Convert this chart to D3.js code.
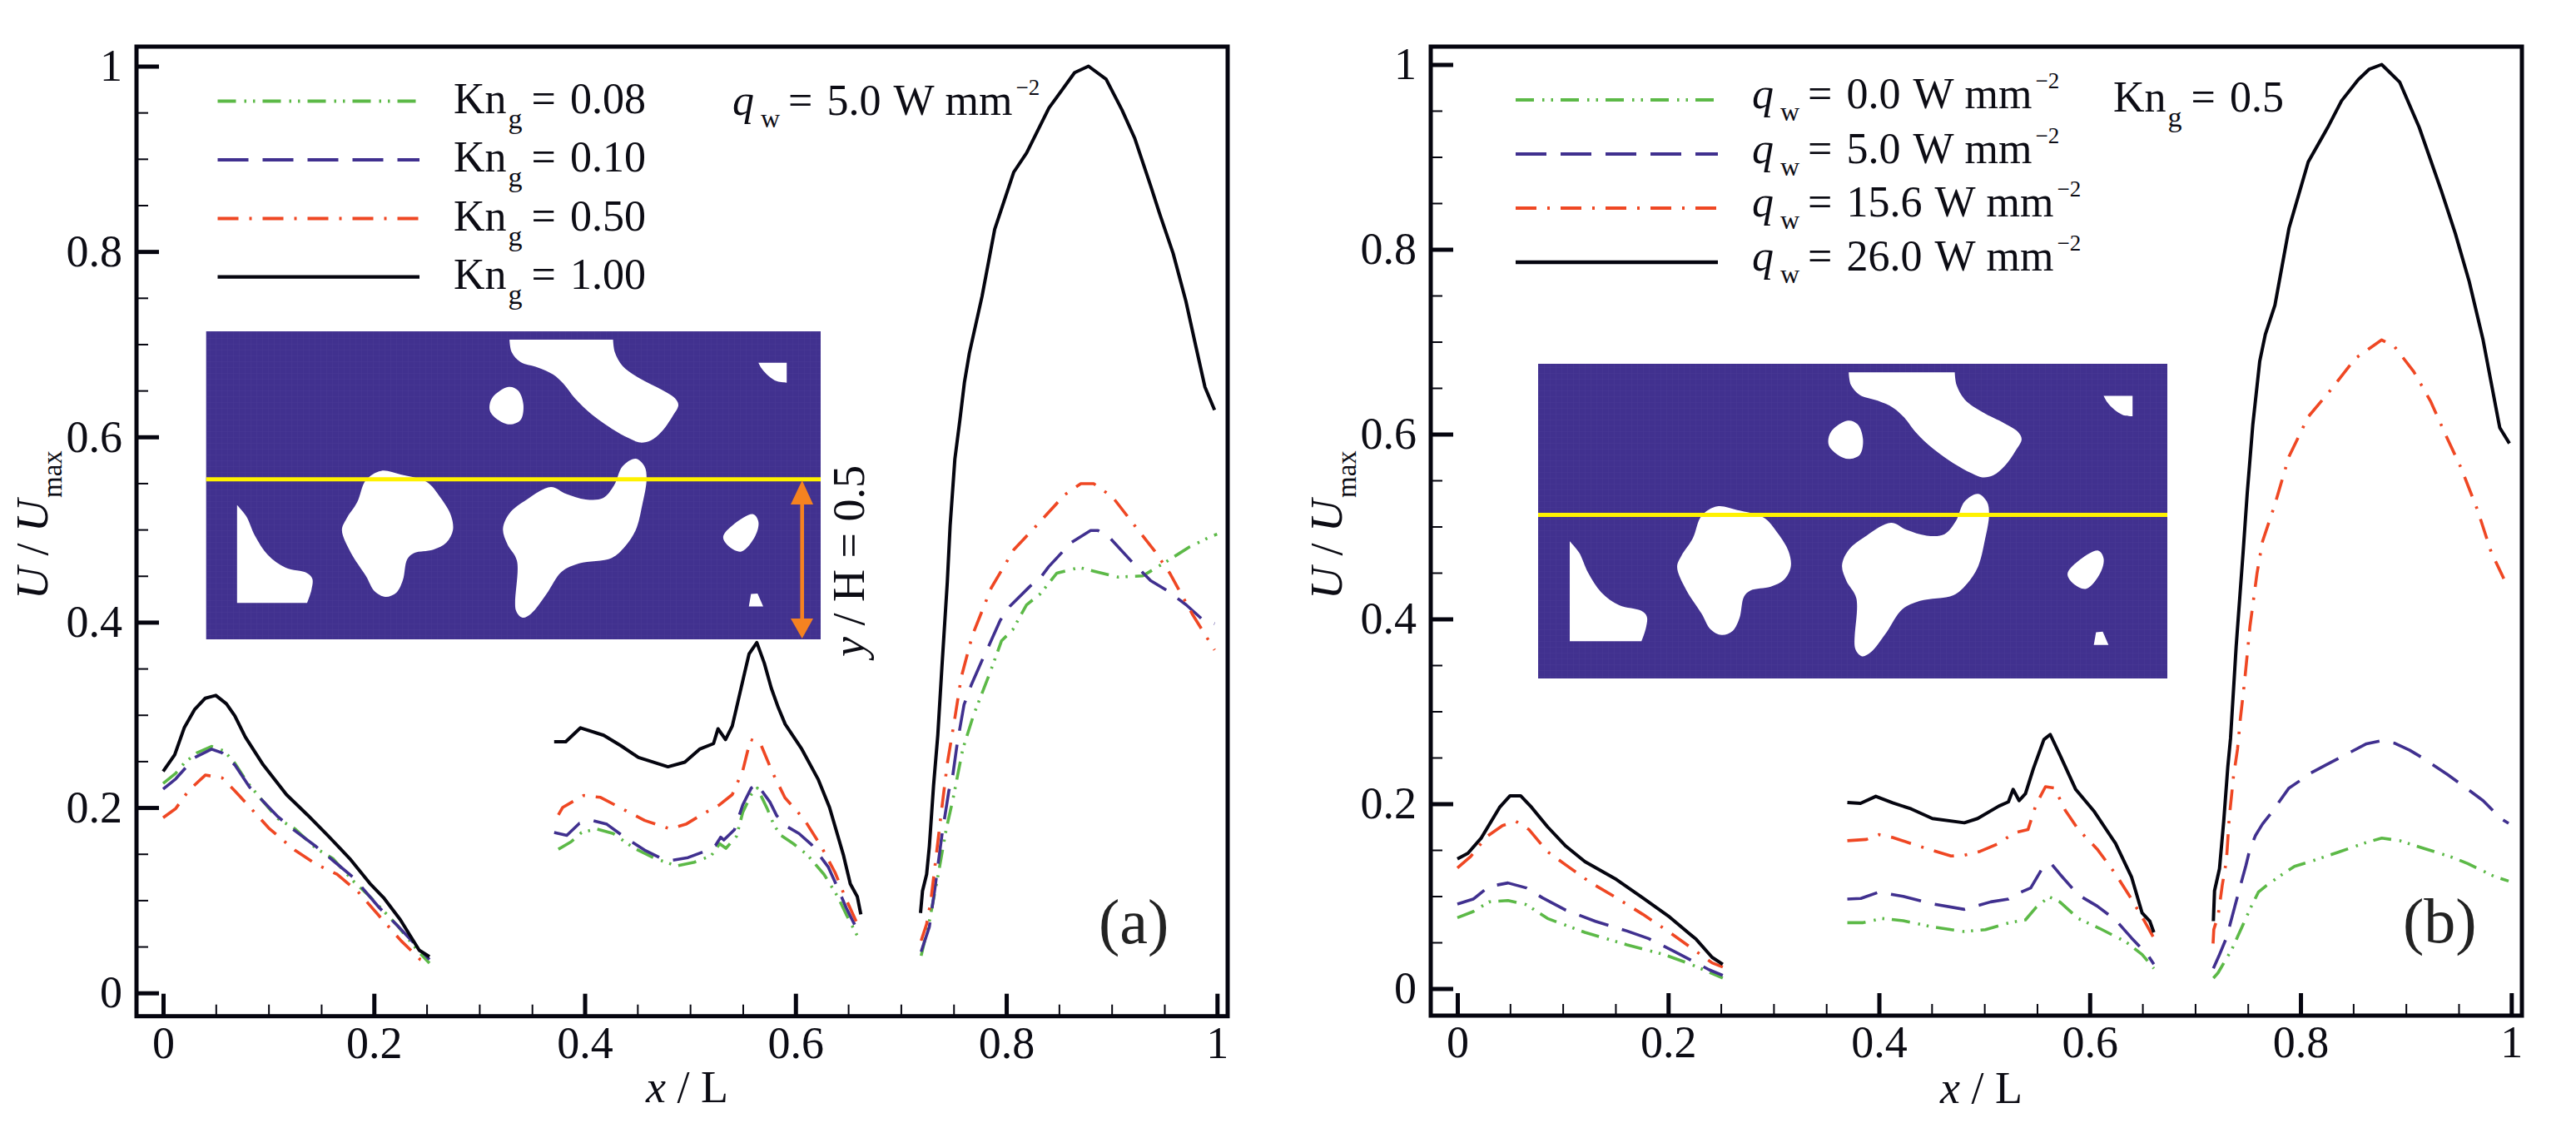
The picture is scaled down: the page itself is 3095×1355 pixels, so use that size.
<!DOCTYPE html>
<html><head><meta charset="utf-8">
<script src="https://cdn.jsdelivr.net/npm/d3@7/dist/d3.min.js"></script>
<style>html,body{margin:0;padding:0;background:#fff}svg{display:block}
text{font-family:"Liberation Serif","Times New Roman",serif;fill:#0c0c14}</style>
</head><body><svg id="c" width="3095" height="1355"></svg>
<script>
const xTicksMajor=[0,0.2,0.4,0.6,0.8,1];
const xTicksMinor=[0.05,0.1,0.15,0.25,0.3,0.35,0.45,0.5,0.55,0.65,0.7,0.75,0.85,0.9,0.95];
const yTicksMajor=[0,0.2,0.4,0.6,0.8,1];
const yTicksMinor=[0.05,0.1,0.15,0.25,0.3,0.35,0.45,0.5,0.55,0.65,0.7,0.75,0.85,0.9,0.95];

// Panel (a)
const aGreen1=[[0,.226],[.012,.237],[.02,.248],[.032,.259],[.046,.266],[.058,.261],[.068,.248],[.08,.227],[.093,.209],[.109,.188],[.125,.177],[.145,.156],[.161,.145],[.181,.120],[.197,.103],[.222,.073],[.242,.045],[.2527,.032]];
const aBlue1=[[0,.220],[.012,.231],[.03,.254],[.046,.263],[.056,.259],[.068,.246],[.082,.222],[.093,.209],[.109,.190],[.125,.175],[.145,.158],[.161,.143],[.181,.124],[.205,.092],[.222,.073],[.2527,.036]];
const aRed1=[[0,.189],[.012,.199],[.024,.218],[.04,.235],[.056,.232],[.068,.218],[.085,.197],[.101,.177],[.125,.154],[.145,.139],[.165,.128],[.185,.109],[.205,.083],[.226,.056],[.244,.036],[.2527,.032]];
const aBlack1=[[0,.239],[.011,.257],[.02,.286],[.03,.306],[.04,.318],[.05,.321],[.06,.312],[.068,.299],[.078,.276],[.095,.246],[.117,.214],[.137,.192],[.157,.169],[.177,.145],[.197,.117],[.209,.103],[.225,.079],[.243,.046],[.2527,.039]];
const aGreen2=[[.375,.155],[.387,.163],[.397,.173],[.411,.177],[.427,.172],[.447,.156],[.467,.145],[.487,.137],[.504,.141],[.52,.148],[.528,.161],[.534,.156],[.544,.169],[.55,.195],[.558,.214],[.5638,.221],[.5731,.199],[.5796,.181],[.5862,.170],[.598,.161],[.6112,.149],[.627,.128],[.64,.104],[.648,.085],[.6612,.056]];
const aBlue2=[[.371,.173],[.383,.170],[.395,.183],[.407,.186],[.421,.182],[.439,.167],[.457,.154],[.471,.146],[.483,.143],[.498,.146],[.512,.152],[.524,.159],[.529,.168],[.532,.165],[.542,.176],[.55,.203],[.558,.221],[.5633,.2255],[.5757,.206],[.5823,.191],[.5928,.179],[.6033,.172],[.6152,.160],[.631,.136],[.6402,.113],[.648,.092],[.656,.074],[.662,.061]];
const aRed2=[[.375,.192],[.379,.2],[.391,.208],[.399,.213],[.415,.211],[.435,.199],[.457,.186],[.481,.177],[.496,.182],[.512,.193],[.528,.203],[.54,.214],[.55,.24],[.5573,.2734],[.5665,.2696],[.5783,.2375],[.59,.2106],[.6007,.197],[.6086,.1866],[.6244,.158],[.6375,.13],[.648,.101],[.6612,.068]];
const aBlack2=[[.371,.271],[.382,.271],[.396,.286],[.418,.278],[.434,.267],[.451,.254],[.479,.244],[.495,.249],[.509,.263],[.5222,.269],[.5265,.285],[.5336,.2734],[.54,.288],[.5441,.308],[.552,.3468],[.556,.366],[.5633,.378],[.5704,.3558],[.577,.329],[.5836,.308],[.5902,.29],[.606,.263],[.6217,.23],[.6323,.2],[.6454,.149],[.652,.1177],[.6586,.104],[.662,.0848]];
const aGreen3=[[.7192,.04],[.727,.0774],[.735,.125],[.7429,.176],[.7494,.209],[.7587,.263],[.769,.30],[.785,.347],[.7955,.38],[.806,.3917],[.8192,.4187],[.8323,.4307],[.848,.453],[.869,.459],[.885,.4546],[.906,.4487],[.9295,.45],[.952,.4655],[.9735,.481],[.9946,.4928],[1,.495]];
const aBlue3=[[.7192,.0444],[.727,.0713],[.7323,.113],[.7389,.170],[.7455,.218],[.7494,.236],[.7534,.269],[.7599,.311],[.7666,.3318],[.777,.3588],[.7837,.3752],[.7942,.402],[.8034,.4172],[.8218,.438],[.8337,.45],[.8403,.46],[.8616,.486],[.88,.499],[.887,.499],[.898,.4913],[.919,.4654],[.937,.4449],[.952,.4345],[.9704,.419],[.9855,.4036],[.9976,.3984]];
const aRed3=[[.7192,.0563],[.7244,.0743],[.7283,.0983],[.7336,.149],[.7389,.2],[.7441,.248],[.7507,.293],[.7573,.3408],[.7678,.3857],[.7857,.437],[.807,.478],[.8284,.504],[.8555,.5376],[.8707,.5495],[.8829,.5495],[.9009,.535],[.922,.504],[.94,.478],[.9553,.4526],[.9765,.4087],[.9976,.370]];
const aBlack3=[[.7186,.0862],[.7205,.11],[.7244,.128],[.727,.158],[.731,.224],[.735,.278],[.739,.353],[.744,.4426],[.7467,.504],[.7512,.576],[.7559,.6176],[.7603,.659],[.7649,.69],[.777,.7517],[.789,.824],[.8071,.8857],[.8193,.9064],[.8405,.955],[.8648,.993],[.878,1.0],[.8947,.986],[.9097,.953],[.922,.9218],[.9372,.870],[.946,.839],[.9583,.798],[.9704,.7465],[.9794,.70],[.9885,.6537],[.9976,.629]];

// Panel (b)
const bGreen1=[[0,.0767],[.015,.0833],[.03,.0938],[.048,.0953],[.0655,.0908],[.0856,.0758],[.121,.0608],[.161,.0473],[.196,.0368],[.2216,.0263],[.2367,.0188],[.2518,.0113]];
const bBlue1=[[0,.0914],[.015,.0968],[.03,.1104],[.048,.1143],[.0655,.1089],[.0806,.0983],[.103,.0848],[.131,.0728],[.161,.0623],[.1813,.0542],[.2065,.0398],[.2216,.0308],[.239,.0203],[.2518,.0143]];
const bRed1=[[0,.1305],[.0126,.143],[.0277,.1644],[.0428,.1764],[.0554,.181],[.068,.172],[.0856,.148],[.1058,.1314],[.126,.115],[.1486,.0998],[.176,.0803],[.2015,.0608],[.2216,.0443],[.2417,.0278],[.2518,.0233]];
const bBlack1=[[0,.1404],[.01,.1464],[.0227,.163],[.04,.196],[.05,.2086],[.06,.2086],[.0705,.196],[.0856,.175],[.103,.154],[.121,.1374],[.151,.118],[.176,.098],[.2015,.0773],[.2266,.0533],[.2417,.0338],[.2518,.0263]];
const bGreen2=[[.37,.0713],[.385,.0713],[.403,.0758],[.423,.0734],[.4507,.0668],[.481,.0617],[.501,.0638],[.5238,.0713],[.539,.0743],[.549,.0878],[.5615,.0992],[.5716,.0938],[.589,.0758],[.609,.0653],[.6346,.0503],[.6497,.0368],[.6608,.0218]];
const bBlue2=[[.37,.0968],[.3828,.0975],[.4,.1044],[.423,.0998],[.448,.0923],[.481,.0857],[.506,.0938],[.5228,.0968],[.5288,.1014],[.544,.1089],[.5565,.133],[.564,.1344],[.5716,.1239],[.589,.1014],[.607,.0893],[.6245,.0743],[.6396,.0548],[.6547,.0368],[.6608,.0263]];
const bRed2=[[.37,.16],[.388,.1614],[.4,.1666],[.413,.1635],[.4384,.154],[.4684,.1434],[.481,.1443],[.496,.1485],[.5137,.157],[.5278,.1683],[.5414,.172],[.549,.199],[.558,.2185],[.5666,.217],[.5767,.193],[.5892,.172],[.607,.151],[.6245,.124],[.6396,.0968],[.652,.0728],[.6608,.0548]];
const bBlack2=[[.37,.2013],[.3825,.2004],[.397,.208],[.413,.201],[.4306,.1944],[.4507,.184],[.481,.1794],[.4936,.184],[.5137,.1974],[.5228,.202],[.5273,.2155],[.533,.2034],[.539,.211],[.5465,.238],[.5565,.2695],[.5625,.275],[.5716,.253],[.5867,.2155],[.6044,.1914],[.6245,.157],[.6396,.1209],[.6497,.0818],[.657,.0728],[.6608,.0608]];
const bGreen3=[[.7173,.0113],[.7218,.0171],[.735,.0428],[.7415,.0593],[.7534,.0892],[.76,.1043],[.7678,.1117],[.781,.1223],[.7942,.1322],[.8126,.1387],[.8363,.1477],[.8613,.1577],[.8771,.1629],[.8942,.16],[.9179,.1514],[.9442,.1419],[.9587,.1353],[.9837,.1214],[.9974,.1163]];
const bBlue3=[[.7173,.0218],[.7231,.0368],[.7297,.0548],[.7402,.0998],[.7481,.1329],[.752,.151],[.7573,.1658],[.7639,.178],[.7731,.1914],[.789,.217],[.8008,.226],[.81,.2335],[.8245,.2423],[.8376,.25],[.8626,.2649],[.8758,.268],[.889,.2656],[.9035,.258],[.9153,.25],[.939,.232],[.9508,.2223],[.9732,.2034],[.9837,.1914],[.9903,.1838],[.9974,.1788]];
const bRed3=[[.717,.0487],[.7177,.064],[.7218,.0788],[.7257,.1117],[.7297,.1387],[.7323,.1838],[.7363,.2288],[.7402,.259],[.7429,.2919],[.7468,.331],[.752,.3918],[.7587,.4493],[.7639,.4838],[.7757,.524],[.789,.5757],[.8073,.6188],[.8284,.6475],[.852,.682],[.877,.702],[.889,.695],[.9074,.6677],[.9232,.636],[.939,.5959],[.9521,.564],[.9679,.518],[.981,.472],[.9929,.4436]];
const bBlack3=[[.7173,.073],[.7184,.1059],[.7231,.1297],[.7271,.181],[.731,.24],[.7336,.271],[.7389,.37],[.7455,.472],[.7494,.5356],[.7547,.61],[.7613,.679],[.7666,.708],[.7757,.7395],[.789,.8227],[.8073,.8946],[.8258,.9319],[.8389,.9607],[.8547,.9836],[.8653,.995],[.877,1.0],[.8942,.9807],[.9126,.932],[.9337,.863],[.9469,.817],[.96,.7653],[.9732,.702],[.989,.607],[.9982,.59]];

const aLegend=["0.08","0.10","0.50","1.00"];
const bLegend=["0.0","5.0","15.6","26.0"];

// Porous inset outlines, read in picture units of the inset; each outline is a list of runs
const poreTop=[[[750,85],[755,130],[775,165],[815,185],[850,210],[875,245],[900,295],[940,355],[985,405],[1025,440],[1050,455],[1075,447],[1100,415],[1125,360],[1138,320],[1130,295],[1100,265],[1050,225],[1010,180],[992,130],[988,85]]];
const poreCorner=[[[1322,168],[1387,168]],[[1387,168],[1387,240]],[[1387,240],[1365,235],[1345,215],[1330,190],[1322,168]]];
const poreOval=[[748,255],[770,268],[782,320],[775,375],[750,390],[725,375],[705,340],[710,295]];
const poreMidL=[[455,557],[500,570],[560,597],[590,650],[615,715],[620,770],[605,815],[575,840],[530,853],[515,875],[505,950],[490,995],[465,1010],[440,990],[420,935],[385,850],[365,770],[375,730],[400,670],[420,590]];
const poreMidR=[[1040,513],[1060,540],[1065,585],[1055,680],[1040,770],[1015,830],[985,870],[910,890],[870,920],[835,1000],[800,1070],[780,1085],[765,1060],[767,880],[745,820],[735,765],[750,710],[790,660],[845,615],[880,640],[925,660],[965,655],[990,610],[1010,540]];
const poreLeft=[[[124,1032],[124,680]],[[124,680],[145,720],[165,790],[195,860],[235,905],[285,925],[297,945],[295,985],[285,1032]]];
const poreSmall=[[1310,713],[1322,740],[1315,790],[1283,847],[1255,830],[1241,795],[1265,750]];
const poreTrap=[[[1300,1045],[1305,1000]],[[1305,1000],[1320,998]],[[1320,998],[1333,1045]]];
const insetDomainX=[53,1465], insetDomainY=[55,1163], sliceY=587;

const colors={green:"#5cb947",blue:"#40308f",red:"#ef4723",black:"#05050f"};
const dashes={green:"22 10 2.5 8 2.5 9",blue:"37 17",red:"25 13 3 13",black:null};
const widths={green:3.6,blue:3.6,red:3.6,black:4};
const seriesOrder=["green","blue","red","black"];

const svg=d3.select("#c");
const defs=svg.append("defs");
const pat=defs.append("pattern").attr("id","mesh").attr("patternUnits","userSpaceOnUse").attr("width",7).attr("height",7);
pat.append("path").attr("d",d3.line()([[7,0],[0,0],[0,7]])).attr("fill","none").attr("stroke","#5a4ba4").attr("stroke-opacity",.28).attr("stroke-width",1);

function panel(o){
  const x=d3.scaleLinear().domain([0,1]).range(o.xr);
  const y=d3.scaleLinear().domain([0,1]).range(o.yr);
  const g=svg.append("g");

  // inset
  const ix=d3.scaleLinear().domain(insetDomainX).range(o.insetX);
  const iy=d3.scaleLinear().domain(insetDomainY).range(o.insetY);
  const ins=g.append("g");
  ins.append("rect").attr("x",o.insetX[0]).attr("y",o.insetY[0]).attr("width",o.insetX[1]-o.insetX[0]).attr("height",o.insetY[1]-o.insetY[0]).attr("fill","#41318f");
  ins.append("rect").attr("x",o.insetX[0]).attr("y",o.insetY[0]).attr("width",o.insetX[1]-o.insetX[0]).attr("height",o.insetY[1]-o.insetY[0]).attr("fill","url(#mesh)");
  const closed=d3.line().x(d=>ix(d[0])).y(d=>iy(d[1])).curve(d3.curveCatmullRomClosed);
  const open=d3.line().x(d=>ix(d[0])).y(d=>iy(d[1])).curve(d3.curveCatmullRom);
  const runs=r=>r.map((s,i)=>{const p=open(s);return i?p.replace(/^M/,"L"):p}).join("")+"Z";
  [poreOval,poreMidL,poreMidR,poreSmall].forEach(s=>ins.append("path").attr("d",closed(s)).attr("fill","#fff"));
  [poreTop,poreCorner,poreLeft,poreTrap].forEach(r=>ins.append("path").attr("d",runs(r)).attr("fill","#fff"));
  ins.append("line").attr("x1",o.insetX[0]).attr("x2",o.insetX[1]).attr("y1",iy(sliceY)).attr("y2",iy(sliceY)).attr("stroke","#fff200").attr("stroke-width",5);

  // curves
  const line=d3.line().x(d=>x(d[0])).y(d=>y(d[1]));
  seriesOrder.forEach(k=>o.series[k].forEach(seg=>{
    g.append("path").attr("d",line(seg)).attr("fill","none").attr("stroke",colors[k]).attr("stroke-width",widths[k]).attr("stroke-dasharray",dashes[k]).attr("stroke-linejoin","round");
  }));

  // axes
  const fb=o.frame.bottom,fl=o.frame.left;
  const style=(s,w)=>{s.select(".domain").remove();s.selectAll(".tick line").attr("stroke","#05050f").attr("stroke-width",w);};
  g.append("g").attr("transform",`translate(0,${fb})`).call(d3.axisBottom(x).tickValues(xTicksMinor).tickSize(-14).tickFormat("")).call(s=>style(s,2));
  g.append("g").attr("transform",`translate(${fl},0)`).call(d3.axisLeft(y).tickValues(yTicksMinor).tickSize(-14).tickFormat("")).call(s=>style(s,2));
  const gx=g.append("g").attr("transform",`translate(0,${fb})`).call(d3.axisBottom(x).tickValues(xTicksMajor).tickSize(-27).tickPadding(12).tickFormat(d=>d));
  const gy=g.append("g").attr("transform",`translate(${fl},0)`).call(d3.axisLeft(y).tickValues(yTicksMajor).tickSize(-27).tickPadding(17).tickFormat(d=>d));
  [gx,gy].forEach(s=>{style(s,5);s.selectAll("text").style("font-family",'"Liberation Serif"').style("font-size","54px").attr("fill","#0c0c14");});
  g.append("rect").attr("x",fl).attr("y",o.frame.top).attr("width",o.frame.right-fl).attr("height",fb-o.frame.top).attr("fill","none").attr("stroke","#05050f").attr("stroke-width",5);

  // axis titles
  const xt=g.append("text").attr("x",o.xTitle[0]).attr("y",o.xTitle[1]).attr("font-size",54);
  xt.append("tspan").attr("font-style","italic").text("x");xt.append("tspan").text(" / L");
  const yt=g.append("text").attr("transform",`translate(${o.yTitleX},720) rotate(-90)`).attr("font-size",54);
  yt.append("tspan").attr("font-style","italic").text("U");yt.append("tspan").text(" / ");
  yt.append("tspan").attr("font-style","italic").text("U");
  yt.append("tspan").attr("font-size",33).attr("dy",17).attr("dx",2).text("max");

  g.append("text").attr("x",o.tag[0]).attr("y",o.tag[1]).attr("font-size",76).style("fill","#222").text(o.tagText);
  return {x,y,g};
}
function kn(sel,x,y,val){
  const t=sel.append("text").attr("x",x).attr("y",y).attr("font-size",52);
  t.append("tspan").text("Kn");
  t.append("tspan").attr("font-size",34).attr("dy",18).attr("dx",2).text("g");
  t.append("tspan").attr("dy",-18).attr("dx",11).text("=");
  t.append("tspan").attr("dx",17).text(val);
}
function qw(sel,x,y,val){
  const t=sel.append("text").attr("x",x).attr("y",y).attr("font-size",52);
  t.append("tspan").attr("font-style","italic").text("q");
  t.append("tspan").attr("font-size",32).attr("dy",15).attr("dx",8).text("w");
  t.append("tspan").attr("dy",-15).attr("dx",10).text("=");
  t.append("tspan").attr("dx",17).text(val);
  t.append("tspan").attr("dx",15).text("W");
  t.append("tspan").attr("dx",13).text("mm");
  t.append("tspan").attr("font-size",27).attr("dy",-24).attr("dx",4).text("\u22122");
}
function legend(g,x0,x1,ys){
  seriesOrder.forEach((k,i)=>g.append("line").attr("x1",x0).attr("x2",x1).attr("y1",ys[i]).attr("y2",ys[i]).attr("stroke",colors[k]).attr("stroke-width",widths[k]+.4).attr("stroke-dasharray",dashes[k]));
}

const A=panel({xr:[196,1462.3],yr:[1192.7,79.5],frame:{left:164,right:1475,top:56,bottom:1220.7},
  insetX:[247.7,986],insetY:[398,768],xTitle:[776,1324],yTitleX:57,tag:[1320,1133],tagText:"(a)",
  series:{green:[aGreen1,aGreen2,aGreen3],blue:[aBlue1,aBlue2,aBlue3],red:[aRed1,aRed2,aRed3],black:[aBlack1,aBlack2,aBlack3]}});
legend(A.g,261.5,504,[121.4,192,262.5,332.6]);
aLegend.forEach((v,i)=>kn(A.g,545,[136,206,277,347][i],v));
qw(A.g,880,138,"5.0");
A.g.append("line").attr("x1",963.7).attr("x2",963.7).attr("y1",600).attr("y2",745).attr("stroke","#f58220").attr("stroke-width",4.6);
A.g.append("path").attr("d",d3.line()([[963.7,577],[950,606],[977,606]])+"Z").attr("fill","#f58220");
A.g.append("path").attr("d",d3.line()([[963.7,767],[950,743],[977,743]])+"Z").attr("fill","#f58220");
const yh=A.g.append("text").attr("transform","translate(1038,789) rotate(-90)").attr("font-size",54);
yh.append("tspan").attr("font-style","italic").text("y");yh.append("tspan").text(" / H = 0.5");

const B=panel({xr:[1751,3017.3],yr:[1187.5,77.5],frame:{left:1719,right:3030,top:56,bottom:1220},
  insetX:[1848,2604],insetY:[437,815],xTitle:[2331,1325],yTitleX:1612,tag:[2887,1132],tagText:"(b)",
  series:{green:[bGreen1,bGreen2,bGreen3],blue:[bBlue1,bBlue2,bBlue3],red:[bRed1,bRed2,bRed3],black:[bBlack1,bBlack2,bBlack3]}});
legend(B.g,1821,2064,[120,185,250,315]);
bLegend.forEach((v,i)=>qw(B.g,2105,[130,196,260,325][i],v));
kn(B.g,2539,134,"0.5");
</script></body></html>
